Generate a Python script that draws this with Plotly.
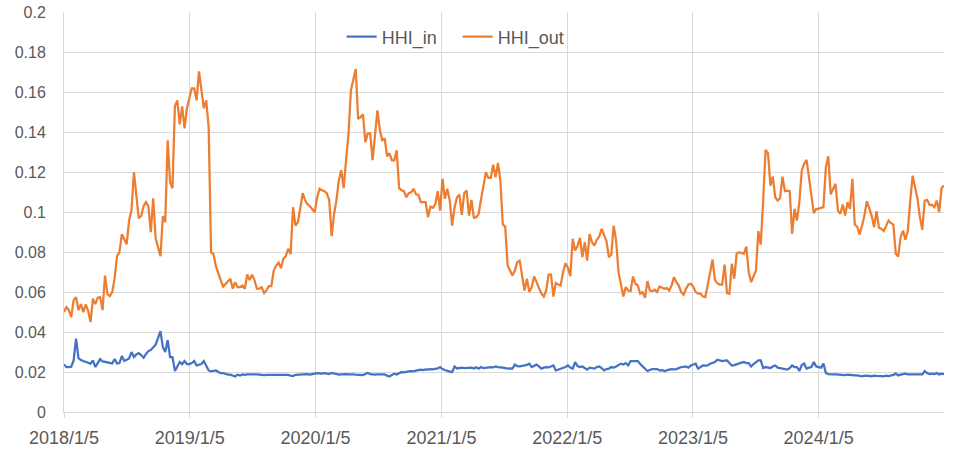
import pandas as pd
import plotly.graph_objects as go

# ---------------- data (weekly, starting 2018/1/5) ----------------
start_date = "2018-01-05"

hhi_out = [
    0.050, 0.0525, 0.051, 0.0475, 0.056, 0.0575, 0.051, 0.054, 0.050, 0.0538,
    0.0508, 0.045, 0.0567, 0.054, 0.0572, 0.0575, 0.051, 0.0683, 0.059, 0.058,
    0.060, 0.067, 0.078, 0.080, 0.089, 0.086, 0.084, 0.096, 0.101, 0.120,
    0.107, 0.097, 0.098, 0.103, 0.105, 0.103, 0.090, 0.107, 0.087, 0.083,
    0.078, 0.098, 0.095, 0.136, 0.115, 0.112, 0.153, 0.156, 0.144, 0.153,
    0.142, 0.152, 0.157, 0.162, 0.162, 0.156, 0.1705, 0.162, 0.152, 0.156,
    0.1425, 0.080, 0.079, 0.073, 0.069, 0.066, 0.0628, 0.064, 0.0655, 0.0667,
    0.0617, 0.065, 0.0625, 0.0625, 0.0633, 0.0617, 0.0688, 0.066, 0.0687, 0.066,
    0.0617, 0.0617, 0.0625, 0.0595, 0.061, 0.063, 0.063, 0.0708, 0.0733, 0.0748,
    0.072, 0.0767, 0.078, 0.0817, 0.079, 0.1025, 0.0933, 0.095, 0.102, 0.1095,
    0.106, 0.104, 0.103, 0.1017, 0.100, 0.1075, 0.1117, 0.111, 0.1105, 0.1095,
    0.106, 0.088, 0.099, 0.106, 0.116, 0.121, 0.112, 0.126, 0.139, 0.161,
    0.166, 0.1717, 0.1467, 0.1475, 0.149, 0.135, 0.1395, 0.1395, 0.126, 0.138,
    0.151, 0.141, 0.136, 0.137, 0.128, 0.1295, 0.126, 0.126, 0.131, 0.112,
    0.111, 0.1105, 0.1075, 0.1095, 0.110, 0.1117, 0.109, 0.1087, 0.105, 0.105,
    0.105, 0.0975, 0.1028, 0.1022, 0.104, 0.1105, 0.1008, 0.1167, 0.1067, 0.1117,
    0.1058, 0.0933, 0.1025, 0.1075, 0.1088, 0.0987, 0.1095, 0.1108, 0.0983, 0.1062,
    0.0972, 0.0975, 0.0992, 0.1067, 0.1125, 0.12, 0.1172, 0.1172, 0.1238, 0.1175,
    0.1247, 0.1158, 0.094, 0.0928, 0.0733, 0.0708, 0.0683, 0.0708, 0.075, 0.0758,
    0.0683, 0.0608, 0.0667, 0.060, 0.0625, 0.0678, 0.065, 0.0617, 0.0592, 0.0578,
    0.0608, 0.0688, 0.0688, 0.0578, 0.0645, 0.0638, 0.0633, 0.070, 0.0745, 0.0722,
    0.068, 0.0867, 0.0808, 0.083, 0.0872, 0.0775, 0.085, 0.0758, 0.089, 0.085,
    0.0833, 0.0862, 0.0878, 0.0917, 0.0885, 0.0855, 0.0775, 0.0788, 0.0933, 0.0858,
    0.070, 0.0645, 0.0578, 0.0625, 0.0608, 0.0605, 0.0678, 0.0642, 0.0633, 0.0592,
    0.060, 0.0572, 0.0655, 0.0608, 0.0605, 0.0612, 0.060, 0.0628, 0.0622, 0.0617,
    0.062, 0.0608, 0.0633, 0.0675, 0.065, 0.0633, 0.060, 0.0587, 0.0617, 0.0638,
    0.0642, 0.0628, 0.060, 0.0592, 0.0592, 0.0578, 0.0575, 0.0633, 0.0688, 0.0762,
    0.066, 0.0645, 0.0638, 0.0638, 0.0738, 0.0595, 0.0592, 0.0742, 0.0667, 0.0792,
    0.080, 0.0795, 0.0792, 0.0828, 0.070, 0.065, 0.0675, 0.0708, 0.0905, 0.0838,
    0.1058, 0.1312, 0.1295, 0.1133, 0.1178, 0.1075, 0.1058, 0.107, 0.1178, 0.1105,
    0.1108, 0.1105, 0.0892, 0.1017, 0.0958, 0.105, 0.1208, 0.1242, 0.1262, 0.1175,
    0.1092, 0.0995, 0.1017, 0.1017, 0.1022, 0.1025, 0.1225, 0.128, 0.109, 0.1117,
    0.1142, 0.1008, 0.0992, 0.1038, 0.0983, 0.105, 0.1017, 0.1167, 0.0938, 0.0928,
    0.0888, 0.0933, 0.0983, 0.1055, 0.1017, 0.0983, 0.0925, 0.1005, 0.0922, 0.0917,
    0.0905, 0.0933, 0.0958, 0.0945, 0.0938, 0.0792, 0.0778, 0.0875, 0.0908, 0.0862,
    0.0908, 0.1058, 0.1183, 0.1125, 0.1067, 0.0975, 0.0912, 0.1058, 0.1062, 0.1037,
    0.1037, 0.1025, 0.1058, 0.100, 0.1122, 0.1133,
]

hhi_in = [
    0.0238, 0.0225, 0.0225, 0.0227, 0.0258, 0.0367, 0.027, 0.026, 0.0255, 0.025,
    0.0245, 0.0242, 0.0258, 0.0225, 0.0245, 0.0265, 0.0253, 0.025, 0.0248, 0.0247,
    0.0243, 0.0265, 0.0243, 0.0245, 0.028, 0.0255, 0.026, 0.0268, 0.030, 0.0275,
    0.0288, 0.0295, 0.0285, 0.0272, 0.029, 0.0305, 0.031, 0.0325, 0.0337, 0.037,
    0.0405, 0.0325, 0.030, 0.036, 0.0275, 0.0275, 0.0205, 0.0228, 0.025, 0.024,
    0.0255, 0.024, 0.024, 0.0245, 0.0255, 0.0233, 0.0238, 0.024, 0.0255, 0.0233,
    0.0208, 0.0203, 0.0205, 0.0208, 0.020, 0.0195, 0.0195, 0.019, 0.0187, 0.0187,
    0.0183, 0.0178, 0.0187, 0.0183, 0.0188, 0.0186, 0.0188, 0.0187, 0.0189, 0.0188,
    0.0188, 0.0186, 0.0185, 0.0185, 0.0186, 0.0186, 0.0187, 0.0185, 0.0188, 0.0187,
    0.0188, 0.0186, 0.0187, 0.0186, 0.0182, 0.018, 0.0186, 0.0187, 0.0188, 0.0187,
    0.0188, 0.0189, 0.0187, 0.0188, 0.0192, 0.0195, 0.0193, 0.0192, 0.0194, 0.0192,
    0.019, 0.0196, 0.0193, 0.019, 0.0187, 0.0188, 0.019, 0.0189, 0.0188, 0.0189,
    0.0188, 0.0187, 0.0186, 0.0183, 0.0185, 0.019, 0.0195, 0.019, 0.0188, 0.0187,
    0.0188, 0.0187, 0.0186, 0.0188, 0.0182, 0.0178, 0.0185, 0.0192, 0.0188, 0.0195,
    0.020, 0.0198, 0.0202, 0.0203, 0.0205, 0.0203, 0.0207, 0.0211, 0.0212, 0.021,
    0.0213, 0.0212, 0.0215, 0.0213, 0.0216, 0.0218, 0.0225, 0.0215, 0.021, 0.0205,
    0.0202, 0.020, 0.0228, 0.0218, 0.022, 0.0222, 0.022, 0.0221, 0.022, 0.0222,
    0.0218, 0.0224, 0.0217, 0.0225, 0.022, 0.0222, 0.0221, 0.0225, 0.0223, 0.0228,
    0.0225, 0.0222, 0.0222, 0.022, 0.0217, 0.0218, 0.0217, 0.0237, 0.023, 0.0228,
    0.0232, 0.0233, 0.0236, 0.0242, 0.0225, 0.023, 0.0237, 0.0228, 0.0217, 0.0222,
    0.0225, 0.0223, 0.0228, 0.0233, 0.0208, 0.0212, 0.0217, 0.022, 0.0225, 0.0233,
    0.0222, 0.0217, 0.025, 0.023, 0.0225, 0.0228, 0.0222, 0.0212, 0.0222, 0.0218,
    0.0217, 0.0225, 0.0228, 0.022, 0.0208, 0.0215, 0.0217, 0.0225, 0.0222, 0.0228,
    0.0235, 0.0242, 0.0238, 0.0245, 0.0233, 0.0255, 0.0255, 0.0255, 0.0255, 0.024,
    0.0228, 0.0217, 0.0205, 0.021, 0.0215, 0.0215, 0.0215, 0.0208, 0.021, 0.0205,
    0.0207, 0.0212, 0.0215, 0.0213, 0.0215, 0.022, 0.0225, 0.0226, 0.0228, 0.0222,
    0.0233, 0.0238, 0.0242, 0.0217, 0.0225, 0.0233, 0.0232, 0.0233, 0.0242, 0.0245,
    0.025, 0.0262, 0.0258, 0.0255, 0.0257, 0.0258, 0.0245, 0.0233, 0.0235, 0.024,
    0.0245, 0.0247, 0.025, 0.0245, 0.0245, 0.0228, 0.024, 0.025, 0.0258, 0.0258,
    0.022, 0.0225, 0.0222, 0.022, 0.0228, 0.0233, 0.0222, 0.022, 0.0217, 0.0215,
    0.0212, 0.022, 0.0233, 0.0225, 0.0225, 0.0205, 0.0235, 0.0242, 0.0217, 0.0222,
    0.0225, 0.025, 0.0228, 0.0225, 0.0222, 0.0242, 0.0195, 0.019, 0.0188, 0.0188,
    0.0188, 0.0187, 0.0185, 0.0183, 0.0185, 0.0187, 0.0185, 0.0186, 0.0183, 0.0183,
    0.0182, 0.0178, 0.0182, 0.0183, 0.0181, 0.0178, 0.0182, 0.0181, 0.0182, 0.018,
    0.0178, 0.0182, 0.018, 0.0182, 0.0186, 0.0192, 0.0183, 0.0187, 0.0189, 0.0192,
    0.0188, 0.0188, 0.0186, 0.0187, 0.0187, 0.0188, 0.0188, 0.0205, 0.0195, 0.019,
    0.0192, 0.019, 0.0195, 0.0188, 0.0192, 0.019,
]

x_tick_vals = ["2018-01-05", "2019-01-05", "2020-01-05", "2021-01-05",
               "2022-01-05", "2023-01-05", "2024-01-05"]
x_tick_text = ["2018/1/5", "2019/1/5", "2020/1/5", "2021/1/5",
               "2022/1/5", "2023/1/5", "2024/1/5"]
y_tick_vals = [0, 0.02, 0.04, 0.06, 0.08, 0.1, 0.12, 0.14, 0.16, 0.18, 0.2]
y_tick_text = ["0", "0.02", "0.04", "0.06", "0.08", "0.1", "0.12", "0.14",
               "0.16", "0.18", "0.2"]

dates_out = pd.date_range(start_date, periods=len(hhi_out), freq="7D")
dates_in = pd.date_range(start_date, periods=len(hhi_in), freq="7D")
last_date = max(dates_out[-1], dates_in[-1])

GRID = "#D9D9D9"
TEXT = "#595959"

fig = go.Figure()
fig.add_trace(go.Scatter(x=dates_in, y=hhi_in, name="HHI_in", mode="lines",
                         line=dict(color="#4472C4", width=2.25)))
fig.add_trace(go.Scatter(x=dates_out, y=hhi_out, name="HHI_out", mode="lines",
                         line=dict(color="#ED7D31", width=2.25)))

fig.update_layout(
    width=967, height=450,
    margin=dict(l=64, r=23, t=12, b=38, autoexpand=False),
    paper_bgcolor="white", plot_bgcolor="white",
    font=dict(family="Liberation Sans, Arial, sans-serif", color=TEXT),
    showlegend=True,
    legend=dict(orientation="h", x=0.3155, xanchor="left", y=0.9375,
                yanchor="middle", font=dict(size=18, color=TEXT),
                entrywidth=71, bgcolor="rgba(0,0,0,0)"),
    xaxis=dict(type="date", range=[dates_out[0], last_date], automargin=False,
               tickmode="array", tickvals=x_tick_vals, ticktext=x_tick_text,
               showgrid=True, gridcolor=GRID, gridwidth=1,
               ticks="outside", ticklen=5, tickcolor=GRID,
               showline=True, linecolor=GRID, linewidth=1,
               zeroline=False, tickfont=dict(size=18, color=TEXT),
               ticklabelstandoff=4),
    yaxis=dict(range=[0, 0.2002], automargin=False, tickmode="array",
               tickvals=y_tick_vals,
               ticktext=y_tick_text, showgrid=True, gridcolor=GRID, gridwidth=1,
               showline=True, linecolor=GRID, linewidth=1, zeroline=False,
               ticks="", tickfont=dict(size=16, color=TEXT),
               ticklabelstandoff=14, ticklabeloverflow="allow"),
)

# remove the default 8px page margin so the figure fills the window exactly
fig.write_html("out.html",
               config={"displayModeBar": False},
               post_script="document.body.style.margin='0px';")
